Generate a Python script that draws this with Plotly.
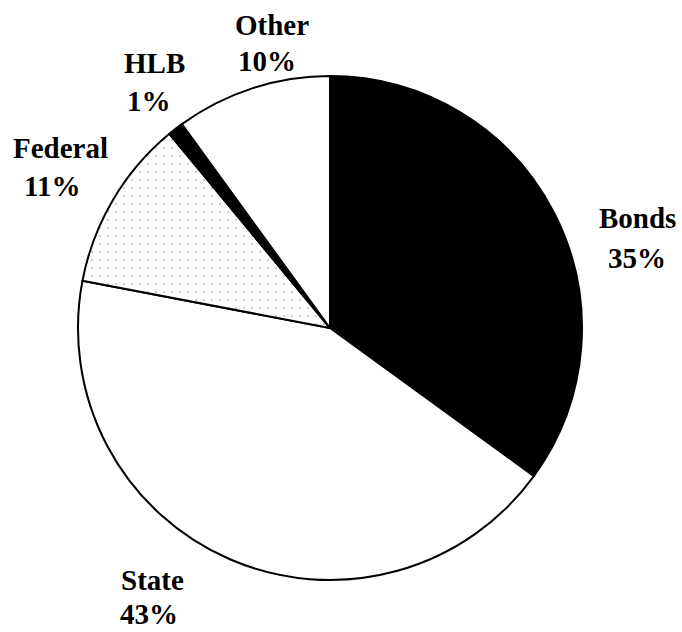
import plotly.graph_objects as go

labels = ["Bonds", "State", "Federal", "HLB", "Other"]
values = [35, 43, 11, 1, 10]
colors = ["#000000", "#ffffff", "#ffffff", "#000000", "#ffffff"]
patterns = ["", "", ".", "", ""]

# label anchor positions (pixels from top-left): name line and percent line
name_pos = [(637, 218), (152, 580), (60, 148), (154, 63), (272, 25)]
pct_pos = [(637, 258), (149, 614), (52, 186), (149, 101), (267, 61)]

W, H = 682, 632
cx, cy, r = 330, 328, 252

fig = go.Figure(go.Pie(
    labels=labels, values=values, sort=False, direction="clockwise", rotation=0,
    textinfo="none", hoverinfo="label+percent",
    marker=dict(colors=colors, line=dict(color="#000000", width=2),
                pattern=dict(shape=patterns, fgcolor="#888888", bgcolor=colors,
                             size=8, solidity=0.06, fillmode="overlay")),
    domain=dict(x=[(cx - r) / W, (cx + r) / W], y=[1 - (cy + r) / H, 1 - (cy - r) / H]),
    showlegend=False,
))

font = dict(family="Times New Roman, Liberation Serif, serif", size=29, color="#000000")
for lab, val, (nx, ny), (px, py) in zip(labels, values, name_pos, pct_pos):
    fig.add_annotation(x=nx / W, y=1 - ny / H, xref="paper", yref="paper",
                       text=f"<b>{lab}</b>", showarrow=False, font=font,
                       xanchor="center", yanchor="middle")
    fig.add_annotation(x=px / W, y=1 - py / H, xref="paper", yref="paper",
                       text=f"<b>{val}%</b>", showarrow=False, font=font,
                       xanchor="center", yanchor="middle")

fig.update_layout(width=W, height=H, margin=dict(l=0, r=0, t=0, b=0),
                  paper_bgcolor="white", plot_bgcolor="white")
fig.write_html("out.html", config={"displayModeBar": False},
               post_script="document.body.style.margin='0';")
